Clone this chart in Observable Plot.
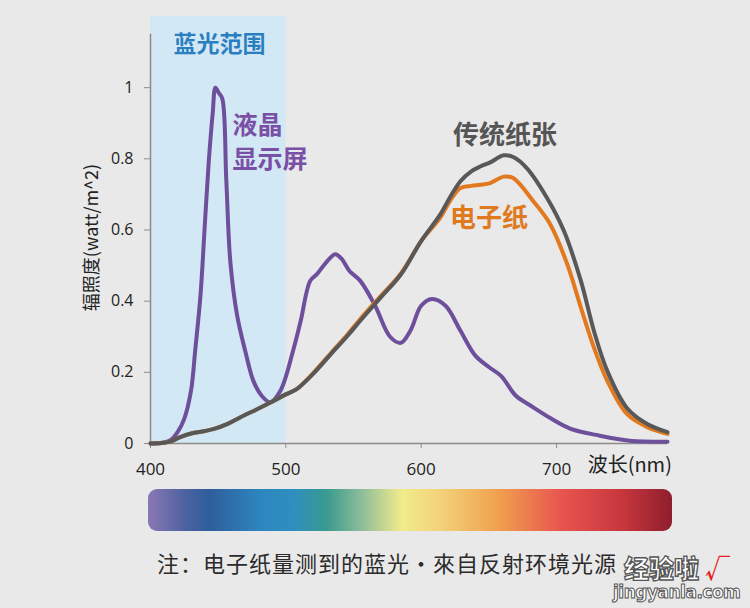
<!DOCTYPE html>
<html><head><meta charset="utf-8">
<script src="https://cdn.jsdelivr.net/npm/d3@7"></script>
<script src="https://cdn.jsdelivr.net/npm/@observablehq/plot@0.6"></script>
<style>
body{margin:0;background:#e9e9e9;}
#wrap{position:relative;width:750px;height:608px;background:#e9e9e9;overflow:hidden;font-family:"Noto Sans CJK SC","Noto Sans",sans-serif;}
#bar{position:absolute;left:148px;top:489px;width:524px;height:42px;border-radius:9px;}
#note{position:absolute;left:157px;top:550px;font-size:22px;line-height:24px;letter-spacing:1px;color:#2b2b2b;white-space:nowrap;}
#wm1{position:absolute;left:624px;top:554px;font-size:25px;font-weight:900;color:#fff;-webkit-text-stroke:1.3px #555;line-height:27px;white-space:nowrap;}
#wm1 span{color:#e61e1e;-webkit-text-stroke:0;font-weight:700;margin-left:6px;}
#wm2{position:absolute;left:613px;top:582px;font-size:17px;font-weight:900;color:#fff;-webkit-text-stroke:1px #555;line-height:20px;font-family:"DejaVu Sans",sans-serif;letter-spacing:-0.5px;white-space:nowrap;}
</style></head><body><div id="wrap"></div>
<script>
// ---- data ----
const xTicks = [400, 500, 600, 700];
const yTicks = [0, 0.2, 0.4, 0.6, 0.8, 1];
const blueRange = [400, 500];

const lcdWl  = [400,410,415,420,425,430,433,437,440,443,446,448,450.5,453,456,459,464,470,476,482,488.5,496,506,511,518,523,530,536.5,541,547,555,566,577,585,592,600,608,618,629,640,650,659,670,681,696,710,732,754,782];
const lcdVal = [0,0.003,0.01,0.032,0.07,0.15,0.26,0.42,0.606,0.79,0.93,1.0,0.985,0.97,0.74,0.51,0.36,0.26,0.176,0.135,0.116,0.148,0.27,0.345,0.457,0.476,0.51,0.532,0.52,0.485,0.457,0.387,0.30,0.283,0.317,0.387,0.406,0.387,0.317,0.247,0.215,0.19,0.134,0.106,0.07,0.042,0.022,0.008,0.005];

const paperWl  = [400,410,415,422,430,440,447,457,466.5,478,489,500,508,520,533,545,555,570,585,600,614,621,629,637,644,651,661,668,678,693,705.5,718,727.6,737.5,752,767,782];
const paperVal = [0,0.002,0.006,0.018,0.028,0.035,0.041,0.055,0.074,0.095,0.116,0.138,0.153,0.195,0.25,0.3,0.345,0.41,0.475,0.569,0.643,0.69,0.737,0.765,0.779,0.79,0.81,0.805,0.774,0.69,0.597,0.457,0.317,0.204,0.10,0.055,0.032];

const epaperWl  = [400,410,415,422,430,440,447,457,466.5,478,489,500,508,520,533,545,555,570,585,600,614,621,629,637,644,651,661,668,683,695.5,708,718,727.6,737.5,752,767,782];
const epaperVal = [0,0.002,0.006,0.018,0.028,0.035,0.041,0.055,0.074,0.095,0.116,0.138,0.153,0.197,0.253,0.304,0.35,0.414,0.478,0.569,0.634,0.68,0.718,0.724,0.727,0.732,0.75,0.746,0.68,0.615,0.503,0.382,0.27,0.176,0.083,0.046,0.027];

const spectrumColors = ["#8a78b5","#4e62a0","#2e5e9b","#2d86c0","#2f8fbd","#389a8e","#93bf9a","#f1ec8b","#f3d27a","#f0a04e","#e8554f","#c6363d","#8f1e2d"];
const spectrumStops  = [0, 0.07, 0.116, 0.215, 0.28, 0.34, 0.412, 0.485, 0.557, 0.669, 0.788, 0.906, 1];

// ---- tables ----
const toRows = (xs, ys) => xs.map((x, i) => ({x, y: ys[i]}));
const lcd = toRows(lcdWl, lcdVal);
const paper = toRows(paperWl, paperVal);
const epaper = toRows(epaperWl, epaperVal);

const CJK = '"Noto Sans CJK SC", sans-serif';
const NUM = '"Open Sans", "Noto Sans", sans-serif';
const axisGray = "#8c8c8c";

const chart = Plot.plot({
  width: 750, height: 480,
  marginLeft: 150, marginRight: 83, marginTop: 16, marginBottom: 37,
  style: {background: "transparent", overflow: "visible"},
  x: {domain: [400, 782]},
  y: {domain: [0, 1.2]},
  marks: [
    Plot.rect([blueRange], {x1: d => d[0], x2: d => d[1], y1: 0, y2: 1.2, fill: "#d3e8f5"}),
    Plot.ruleX([400], {y1: 0, y2: 1.15, stroke: axisGray, strokeWidth: 1.5}),
    Plot.ruleY([0], {x1: 400, x2: 782, stroke: axisGray, strokeWidth: 1.5}),
    Plot.axisX({ticks: xTicks, tickSize: 5, tickPadding: 14, label: null, stroke: axisGray, fill: "#222",
      fontSize: 17, fontFamily: NUM, tickFormat: d => String(d)}),
    Plot.axisY({ticks: yTicks, tickSize: 6, tickPadding: 11, label: null, stroke: axisGray, fill: "#222",
      fontSize: 16, fontFamily: NUM, tickFormat: d => String(d)}),
    Plot.line(lcd, {x: "x", y: "y", stroke: "#6e4f9c", strokeWidth: 4, curve: "catmull-rom"}),
    Plot.line(epaper, {x: "x", y: "y", stroke: "#e2791f", strokeWidth: 4, curve: "catmull-rom"}),
    Plot.line(paper, {x: "x", y: "y", stroke: "#585858", strokeWidth: 4, curve: "catmull-rom"}),
    Plot.text(["蓝光范围"], {x: 451, y: 1.12, text: d => d, fill: "#2a7fc1", fontSize: 23, fontWeight: "bold", fontFamily: CJK}),
    Plot.text(["液晶"], {x: 460.6, y: 0.891, text: d => d, fill: "#7a4fa6", fontSize: 25, fontWeight: "bold",
      fontFamily: CJK, textAnchor: "start"}),
    Plot.text(["显示屏"], {x: 460.6, y: 0.7955, text: d => d, fill: "#7a4fa6", fontSize: 25, fontWeight: "bold",
      fontFamily: CJK, textAnchor: "start"}),
    Plot.text(["传统纸张"], {x: 662, y: 0.866, text: d => d, fill: "#555555", fontSize: 26, fontWeight: "bold", fontFamily: CJK}),
    Plot.text(["电子纸"], {x: 650.2, y: 0.632, text: d => d, fill: "#e07a1e", fontSize: 26, fontWeight: "bold", fontFamily: CJK}),
    Plot.text(["波长(nm)"], {x: 723, y: -0.062, text: d => d, fill: "#222", fontSize: 20, fontFamily: CJK, textAnchor: "start"}),
    Plot.text(["辐照度(watt/m^2)"], {frameAnchor: "left", dx: -58, dy: 7.5, rotate: -90, text: d => d, fill: "#222",
      fontSize: 18, fontFamily: CJK, textAnchor: "middle", lineAnchor: "middle"})
  ]
});

const wrap = document.getElementById("wrap");
wrap.appendChild(chart);

const bar = document.createElement("div");
bar.id = "bar";
bar.style.background = "linear-gradient(to right, " +
  spectrumColors.map((c, i) => `${c} ${(spectrumStops[i] * 100).toFixed(1)}%`).join(", ") + ")";
wrap.appendChild(bar);

const note = document.createElement("div");
note.id = "note";
note.textContent = "注：电子纸量测到的蓝光・來自反射环境光源";
wrap.appendChild(note);

const wm1 = document.createElement("div");
wm1.id = "wm1";
wm1.innerHTML = "经验啦<span>√</span>";
wrap.appendChild(wm1);
const wm2 = document.createElement("div");
wm2.id = "wm2";
wm2.textContent = "jingyanla.com";
wrap.appendChild(wm2);
</script></body></html>
